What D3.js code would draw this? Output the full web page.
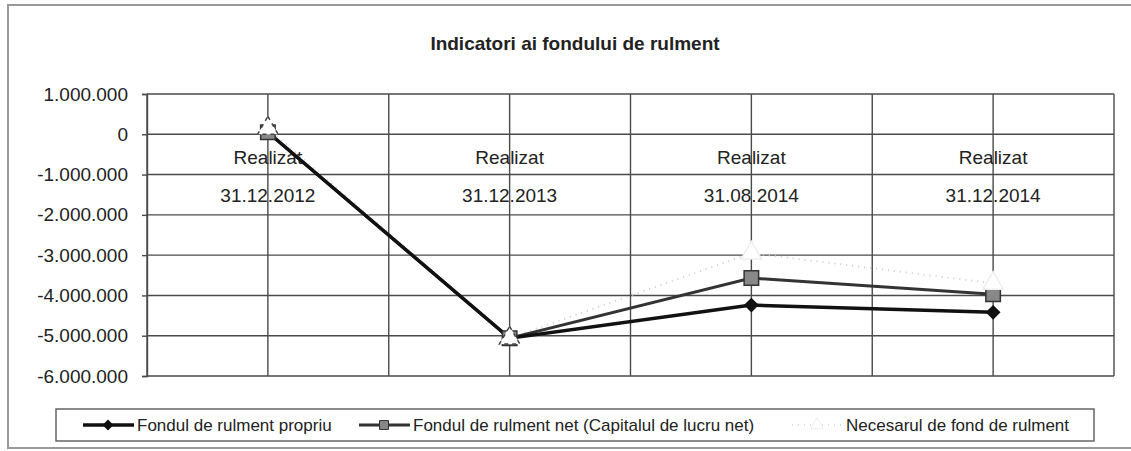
<!DOCTYPE html>
<html lang="en">
<head>
<meta charset="utf-8">
<title>Indicatori ai fondului de rulment</title>
<script src="https://d3js.org/d3.v7.min.js"></script>
<style type="text/css">
body { margin: 0; background: #fff; }
text { font-family: "Liberation Sans", Arial, sans-serif; fill: #222; }
</style>
</head>
<body>
<script type="text/javascript">

// data
var categories = ["31.12.2012", "31.12.2013", "31.08.2014", "31.12.2014"];
var catPrefix = "Realizat";
var seriesNames = ["Fondul de rulment propriu", "Fondul de rulment net (Capitalul de lucru net)", "Necesarul de fond de rulment"];
var propriu = [50000, -5060000, -4240000, -4420000];
var net = [50000, -5060000, -3570000, -3970000];
var necesar = [150000, -5060000, -2950000, -3700000];
var yTicks = [1000000, 0, -1000000, -2000000, -3000000, -4000000, -5000000, -6000000];

const width = 1131, height = 451;
const plot = {left: 147, right: 1114, top: 94, bottom: 376};

var svg = d3.select("body").append("svg")
    .attr("width", width)
    .attr("height", height);

// outer chart frame (right edge is cut off in the scan)
svg.append("rect")
    .attr("x", 8).attr("y", 5)
    .attr("width", 1140).attr("height", 443)
    .attr("fill", "none")
    .attr("stroke", "#999")
    .attr("stroke-width", 2);

svg.append("text")
    .attr("x", 575).attr("y", 50)
    .attr("text-anchor", "middle")
    .style("font-size", "19px")
    .style("font-weight", "bold")
    .text("Indicatori ai fondului de rulment");

var x = d3.scaleBand().domain(categories).range([plot.left, plot.right]);
var y = d3.scaleLinear().domain([-6000000, 1000000]).range([plot.bottom, plot.top]);
var cx = function(d) { return x(d) + x.bandwidth() / 2; };

var fmt = function(v) {
  return d3.format(",")(v).replace(/,/g, ".").replace("−", "-");
};

// horizontal gridlines
svg.append("g").selectAll("line")
    .data(yTicks)
    .enter().append("line")
    .attr("x1", plot.left).attr("x2", plot.right)
    .attr("y1", function(d) { return y(d); })
    .attr("y2", function(d) { return y(d); })
    .attr("stroke", "#4a4a4a")
    .attr("stroke-width", 1.4);

// vertical gridlines: category boundaries and centres
var vlines = [];
categories.forEach(function(c) { vlines.push(x(c)); vlines.push(cx(c)); });
vlines.push(plot.right);
svg.append("g").selectAll("line")
    .data(vlines)
    .enter().append("line")
    .attr("x1", function(d) { return d; })
    .attr("x2", function(d) { return d; })
    .attr("y1", plot.top).attr("y2", plot.bottom)
    .attr("stroke", "#4a4a4a")
    .attr("stroke-width", 1.4);

// y axis labels
var yAxis = svg.append("g")
    .attr("transform", "translate(" + plot.left + ",0)")
    .call(d3.axisLeft(y).tickValues(yTicks).tickFormat(fmt).tickSize(5).tickPadding(14));
yAxis.select(".domain").attr("stroke", "#4a4a4a").attr("stroke-width", 1.4);
yAxis.selectAll(".tick line").attr("stroke", "#4a4a4a").attr("stroke-width", 1.4);
yAxis.selectAll("text")
    .style("font-size", "19px")
    .style("font-family", "'Liberation Sans', Arial, sans-serif")
    .attr("fill", "#333");

// category labels sit on the zero line, inside the plot
var catG = svg.append("g").selectAll("g")
    .data(categories)
    .enter().append("g");
catG.append("text")
    .attr("x", cx).attr("y", y(0) + 30)
    .attr("text-anchor", "middle")
    .style("font-size", "19px")
    .attr("fill", "#333")
    .text(catPrefix);
catG.append("text")
    .attr("x", cx).attr("y", y(0) + 68)
    .attr("text-anchor", "middle")
    .style("font-size", "19px")
    .attr("fill", "#333")
    .text(function(d) { return d; });

var line = d3.line()
    .x(function(d, i) { return cx(categories[i]); })
    .y(function(d) { return y(d); });

// Necesarul: very faint dotted line
svg.append("path")
    .datum(necesar)
    .attr("d", line)
    .attr("fill", "none")
    .attr("stroke", "#ccc")
    .attr("stroke-width", 2)
    .attr("stroke-dasharray", "1,5");

svg.append("path")
    .datum(net)
    .attr("d", line)
    .attr("fill", "none")
    .attr("stroke", "#333")
    .attr("stroke-width", 3);

svg.append("path")
    .datum(propriu)
    .attr("d", line)
    .attr("fill", "none")
    .attr("stroke", "#111")
    .attr("stroke-width", 3.5);

// square rotated by 45 degrees, like the Excel diamond marker
var wideDiamond = {
  draw: function(context, size) {
    var r = Math.sqrt(size / 2);
    context.moveTo(0, -r);
    context.lineTo(r, 0);
    context.lineTo(0, r);
    context.lineTo(-r, 0);
    context.closePath();
  }
};
var diamond = d3.symbol().type(wideDiamond).size(110);
var square = d3.symbol().type(d3.symbolSquare).size(210);
var triangle = d3.symbol().type(d3.symbolTriangle).size(180);

svg.append("g").selectAll("path")
    .data(propriu)
    .enter().append("path")
    .attr("d", diamond)
    .attr("transform", function(d, i) { return "translate(" + cx(categories[i]) + "," + y(d) + ")"; })
    .attr("fill", "#111");

svg.append("g").selectAll("path")
    .data(net)
    .enter().append("path")
    .attr("d", square)
    .attr("transform", function(d, i) { return "translate(" + cx(categories[i]) + "," + y(d) + ")"; })
    .attr("fill", "#888")
    .attr("stroke", "#333")
    .attr("stroke-width", 1.5);

svg.append("g").selectAll("path")
    .data(necesar)
    .enter().append("path")
    .attr("d", triangle)
    .attr("transform", function(d, i) { return "translate(" + cx(categories[i]) + "," + y(d) + ")"; })
    .attr("fill", "#fff")
    .attr("stroke", function(d, i) { return i < 2 ? "#444" : "#eee"; })
    .attr("stroke-width", 1.5)
    .attr("stroke-dasharray", function(d, i) { return i < 2 ? "4,4" : null; });

// legend
var legend = svg.append("g");
legend.append("rect")
    .attr("x", 56).attr("y", 409)
    .attr("width", 1038).attr("height", 32)
    .attr("fill", "#fff")
    .attr("stroke", "#666")
    .attr("stroke-width", 1.5);

var legItems = [
  {name: seriesNames[0], x: 83, color: "#111", w: 3.5, sym: diamond, size: 60, fill: "#111", stroke: "none", dash: null},
  {name: seriesNames[1], x: 359, color: "#333", w: 3, sym: square, size: 80, fill: "#888", stroke: "#333", dash: null},
  {name: seriesNames[2], x: 792, color: "#ddd", w: 2, sym: triangle, size: 70, fill: "#fff", stroke: "#eee", dash: "1,5"}
];
var li = legend.selectAll("g.item")
    .data(legItems)
    .enter().append("g")
    .attr("class", "item")
    .attr("transform", function(d) { return "translate(" + d.x + ",425)"; });
li.append("line")
    .attr("x1", 0).attr("x2", 51)
    .attr("stroke", function(d) { return d.color; })
    .attr("stroke-width", function(d) { return d.w; })
    .attr("stroke-dasharray", function(d) { return d.dash; });
li.append("path")
    .attr("d", function(d) { return d.sym.size(d.size)(); })
    .attr("transform", "translate(25,0)")
    .attr("fill", function(d) { return d.fill; })
    .attr("stroke", function(d) { return d.stroke; });
li.append("text")
    .attr("x", 54).attr("y", 6)
    .style("font-size", "17px")
    .attr("fill", "#333")
    .text(function(d) { return d.name; });

</script>
</body>
</html>
